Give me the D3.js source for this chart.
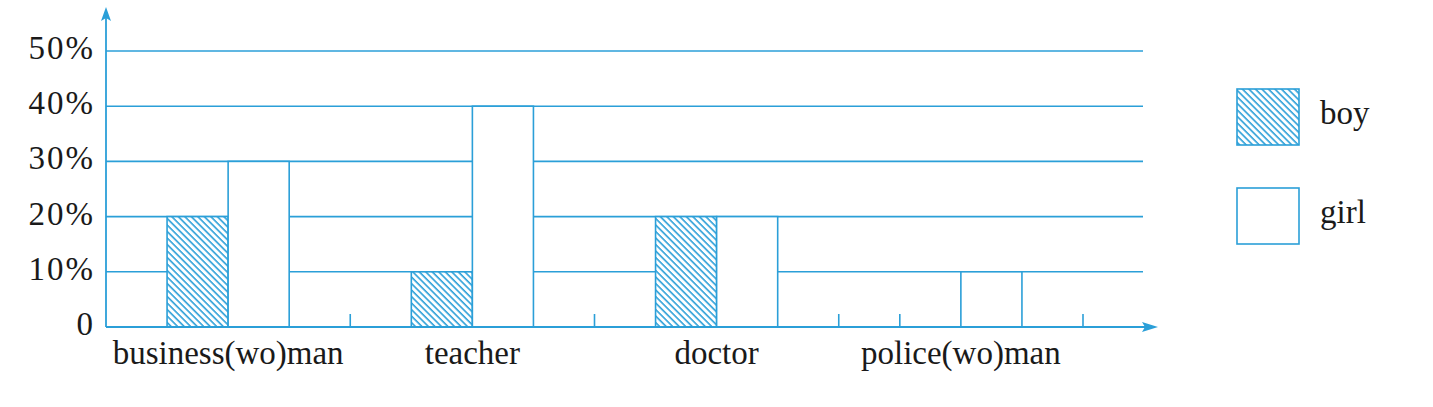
<!DOCTYPE html>
<html>
<head>
<meta charset="utf-8">
<script src="https://cdn.jsdelivr.net/npm/d3@7"></script>
<style>
  body { margin: 0; background: #fff; }
  svg text { font-family: 'Liberation Serif', 'DejaVu Serif', serif; fill: #1a1a1a; }
</style>
</head>
<body>
<div id="chart"></div>
<script>
const categories = ['business(wo)man', 'teacher', 'doctor', 'police(wo)man'];
const series = ['boy', 'girl'];
const boyValues = [20, 10, 20, 0];
const girlValues = [30, 40, 20, 10];
const yTicks = [0, 10, 20, 30, 40, 50];

const blue = '#2b9fd8';
const serif = "'Liberation Serif', 'DejaVu Serif', serif";
const width = 1433, height = 407;

const svg = d3.select('#chart').append('svg')
  .attr('width', width)
  .attr('height', height);

const defs = svg.append('defs');
const pat = defs.append('pattern')
  .attr('id', 'hatch')
  .attr('patternUnits', 'userSpaceOnUse')
  .attr('width', 4.6)
  .attr('height', 4.6)
  .attr('patternTransform', 'rotate(45)');
pat.append('rect').attr('width', 4.6).attr('height', 4.6).attr('fill', '#fff');
pat.append('line')
  .attr('x1', 0).attr('y1', 0).attr('x2', 4.6).attr('y2', 0)
  .attr('stroke', blue).attr('stroke-width', 3.2);

const x0 = d3.scaleBand().domain(categories).range([106, 1083]);
const x1 = d3.scaleBand().domain(series)
  .range([0, x0.bandwidth()])
  .paddingInner(0).paddingOuter(1);
const y = d3.scaleLinear().domain([0, 50]).range([327, 51]);

// grid lines
svg.append('g').selectAll('line')
  .data(yTicks.filter(d => d > 0))
  .join('line')
  .attr('x1', 106).attr('x2', 1143)
  .attr('y1', d => y(d)).attr('y2', d => y(d))
  .attr('stroke', blue).attr('stroke-width', 1.6);

// y labels
svg.append('g').selectAll('text')
  .data(yTicks)
  .join('text')
  .attr('x', 95)
  .attr('y', d => y(d) + 8)
  .attr('text-anchor', 'end')
  .attr('font-family', serif)
  .attr('font-size', 33)
  .attr('letter-spacing', 2)
  .text(d => d === 0 ? '0' : d + '%');

// bars
const rows = categories.map((c, i) => ({ cat: c, boy: boyValues[i], girl: girlValues[i] }));
const groups = svg.append('g').selectAll('g')
  .data(rows)
  .join('g')
  .attr('transform', d => `translate(${x0(d.cat)},0)`);

groups.selectAll('rect')
  .data(d => series.map(s => ({ key: s, value: d[s] })).filter(d => d.value > 0))
  .join('rect')
  .attr('x', d => x1(d.key))
  .attr('y', d => y(d.value))
  .attr('width', x1.bandwidth())
  .attr('height', d => y(0) - y(d.value))
  .attr('fill', d => d.key === 'boy' ? 'url(#hatch)' : '#fff')
  .attr('stroke', blue)
  .attr('stroke-width', 1.6);

// small ticks: group boundaries and zero bars
const tickXs = categories.map(c => x0(c) + x0.bandwidth());
rows.forEach(r => series.forEach(s => { if (r[s] === 0) tickXs.push(x0(r.cat) + x1(s)); }));
svg.append('g').selectAll('line')
  .data(tickXs)
  .join('line')
  .attr('x1', d => d).attr('x2', d => d)
  .attr('y1', y(0)).attr('y2', y(0) - 13)
  .attr('stroke', blue).attr('stroke-width', 1.6);

// axes with arrows
svg.append('line')
  .attr('x1', 106).attr('x2', 1146)
  .attr('y1', y(0)).attr('y2', y(0))
  .attr('stroke', blue).attr('stroke-width', 1.8);
svg.append('path')
  .attr('d', `M1158,${y(0)} L1142,${y(0) - 5} L1145,${y(0)} L1142,${y(0) + 5} Z`)
  .attr('fill', blue);
svg.append('line')
  .attr('x1', 106).attr('x2', 106)
  .attr('y1', y(0)).attr('y2', 18)
  .attr('stroke', blue).attr('stroke-width', 1.8);
svg.append('path')
  .attr('d', 'M106,7 L101,21 L106,18 L111,21 Z')
  .attr('fill', blue);

// x labels
svg.append('g').selectAll('text')
  .data(categories)
  .join('text')
  .attr('x', d => x0(d) + x0.bandwidth() / 2)
  .attr('y', 364)
  .attr('text-anchor', 'middle')
  .attr('font-family', serif)
  .attr('font-size', 33)
  .text(d => d);

// legend
const legend = svg.append('g').selectAll('g')
  .data(series)
  .join('g')
  .attr('transform', (d, i) => `translate(1237,${89 + i * 99})`);
legend.append('rect')
  .attr('width', 62).attr('height', 56)
  .attr('fill', d => d === 'boy' ? 'url(#hatch)' : '#fff')
  .attr('stroke', blue).attr('stroke-width', 1.6);
legend.append('text')
  .attr('x', 83).attr('y', 35)
  .attr('font-family', serif)
  .attr('font-size', 33)
  .text(d => d);
</script>
</body>
</html>
